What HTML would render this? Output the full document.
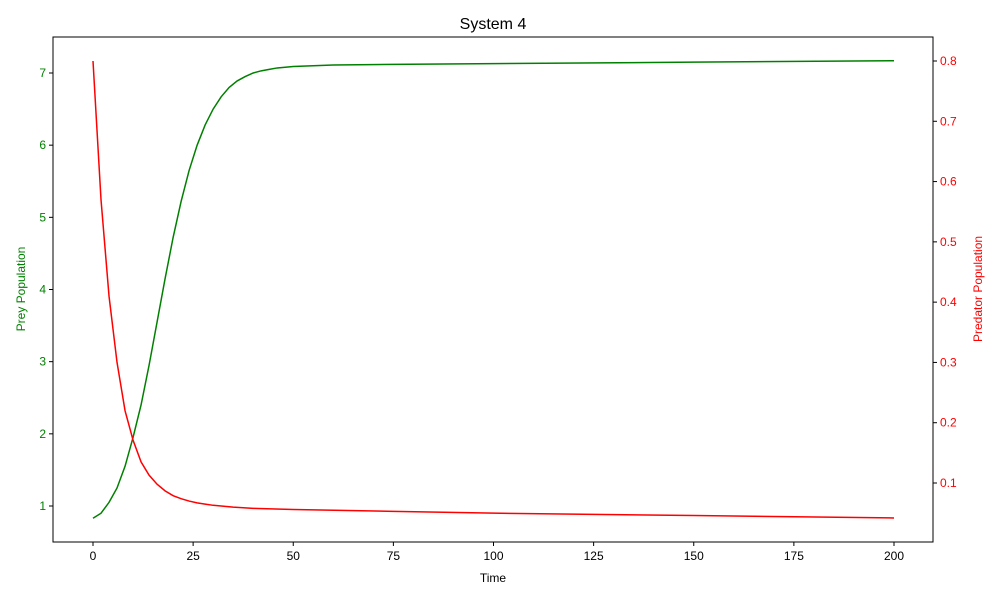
<!DOCTYPE html>
<html><head><meta charset="utf-8"><style>
body{margin:0;background:#fff;font-family:"Liberation Sans",sans-serif;}
svg text{font-family:"Liberation Sans",sans-serif;}
</style></head><body>
<svg id="chart" width="1000" height="600"></svg>
<script>
const times=[0,2,4,6,8,10,12,14,16,18,20,22,24,26,28,30,32,34,36,38,40,42,44,46,48,50,60,75,100,150,200];
const prey=[0.83,0.9,1.05,1.25,1.55,1.95,2.4,2.95,3.55,4.15,4.72,5.22,5.65,6.0,6.28,6.5,6.67,6.8,6.89,6.95,7.0,7.03,7.05,7.07,7.08,7.09,7.11,7.12,7.13,7.15,7.17];
const predTimes=[0,2,4,6,8,10,12,14,16,18,20,22,24,26,28,30,35,40,50,75,100,150,200];
const predator=[0.8,0.57,0.41,0.3,0.22,0.171,0.135,0.113,0.098,0.087,0.079,0.074,0.07,0.067,0.065,0.063,0.06,0.058,0.056,0.053,0.05,0.046,0.042];
const xTicks=[0,25,50,75,100,125,150,175,200];
const yLTicks=[1,2,3,4,5,6,7];
const yRTicks=[0.1,0.2,0.3,0.4,0.5,0.6,0.7,0.8];
const L=53,R=933,T=37,B=542;
const x=v=>93+v*(894-93)/200;
const yl=v=>506-(v-1)*(506-73)/6;
const yr=v=>483-(v-0.1)*(483-61)/0.7;
const svg=document.getElementById('chart');
const NS='http://www.w3.org/2000/svg';
function mk(tag,attrs,parent){const e=document.createElementNS(NS,tag);for(const k in attrs)e.setAttribute(k,attrs[k]);(parent||svg).appendChild(e);return e;}
function txt(s,attrs){const t=mk('text',attrs);t.textContent=s;return t;}
const frame=mk('rect',{x:L,y:T,width:R-L,height:B-T,fill:'none',stroke:'#000','stroke-width':1});


xTicks.forEach(v=>{
  const g=mk('g',{});
  
  
  mk('line',{x1:x(v),x2:x(v),y1:B,y2:B+4,stroke:'#000'},g);
  const t=mk('text',{x:x(v),y:B+18,'text-anchor':'middle','font-size':12},g);t.textContent=v;
});
yLTicks.forEach(v=>{
  const g=mk('g',{});
  
  
  mk('line',{x1:L,x2:L-4,y1:yl(v),y2:yl(v),stroke:'#000'},g);
  const t=mk('text',{x:L-7,y:yl(v)+4,'text-anchor':'end','font-size':12,fill:'green'},g);t.textContent=v;
});
yRTicks.forEach(v=>{
  const g=mk('g',{});
  
  
  mk('line',{x1:R,x2:R+4,y1:yr(v),y2:yr(v),stroke:'#000'},g);
  const t=mk('text',{x:R+7,y:yr(v)+4,'text-anchor':'start','font-size':12,fill:'red'},g);t.textContent=v.toFixed(1);
});
const pg=mk('polyline',{points:times.map((t,i)=>x(t)+','+yl(prey[i])).join(' '),fill:'none',stroke:'green','stroke-width':1.5});


const pr=mk('polyline',{points:predTimes.map((t,i)=>x(t)+','+yr(predator[i])).join(' '),fill:'none',stroke:'red','stroke-width':1.5});


const ti=txt('System 4',{x:493,y:29,'text-anchor':'middle','font-size':16});


const xt=txt('Time',{x:493,y:582,'text-anchor':'middle','font-size':12});


const ylt=txt('Prey Population',{x:0,y:0,'text-anchor':'middle','font-size':12,fill:'green',transform:'translate(25,289) rotate(-90)'});


const yrt=txt('Predator Population',{x:0,y:0,'text-anchor':'middle','font-size':12,fill:'red',transform:'translate(982,289) rotate(-90)'});


</script>
</body></html>
